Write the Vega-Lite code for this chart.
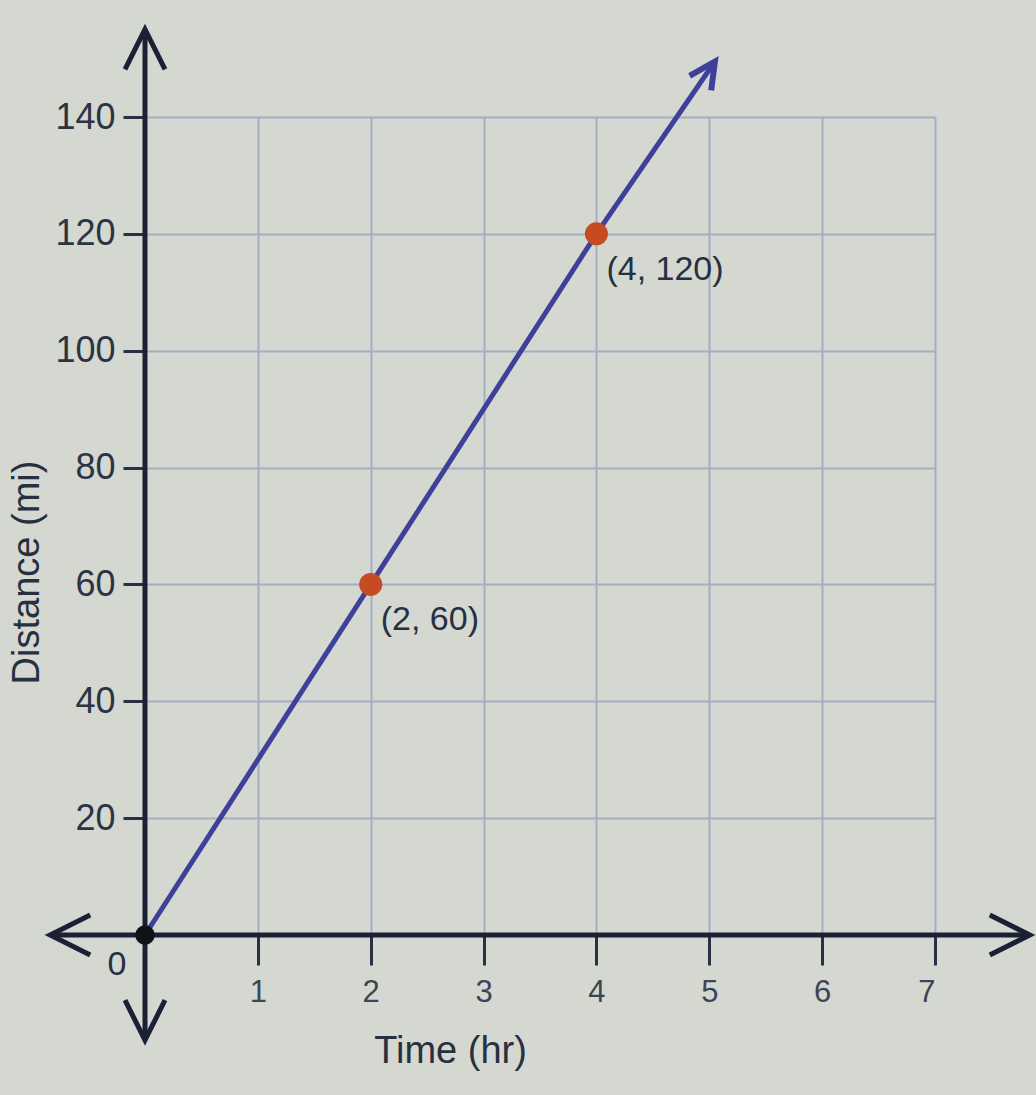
{
  "$schema": "https://vega.github.io/schema/vega-lite/v6.json",
  "width": 790,
  "height": 818,
  "autosize": {"type": "none"},
  "padding": {"left": 145, "top": 117, "right": 101, "bottom": 160},
  "background": "#d4d8d1",
  "config": {"view": {"stroke": null}, "font": "Liberation Sans"},
  "datasets": {
    "xaxisline": [{"x": -0.84, "x2": 7.84, "y": 0}],
    "yaxisline": [{"x": 0, "y": -18, "y2": 155}],
    "line": [{"x": 0, "y": 0}, {"x": 2, "y": 60}, {"x": 4, "y": 120}, {"x": 5.05, "y": 149.5}],
    "axisarrows": [
      {"x": 7.84, "y": 0, "angle": 0},
      {"x": -0.84, "y": 0, "angle": 180},
      {"x": 0, "y": 155, "angle": -90},
      {"x": 0, "y": -18, "angle": 90}
    ],
    "linearrow": [{"x": 5.05, "y": 149.5, "angle": -56}],
    "points": [{"x": 2, "y": 60, "label": "(2, 60)"}, {"x": 4, "y": 120, "label": "(4, 120)"}],
    "origin": [{"x": 0, "y": 0, "label": "0"}]
  },
  "encoding": {
    "x": {
      "field": "x",
      "type": "quantitative",
      "scale": {"domain": [0, 7], "nice": false, "zero": false},
      "axis": {
        "values": [1, 2, 3, 4, 5, 6, 7],
        "domain": false,
        "grid": true,
        "gridColor": "#a3aec3",
        "gridWidth": 2,
        "ticks": true,
        "tickSize": 30,
        "tickWidth": 3,
        "tickColor": "#2a3042",
        "labelFontSize": 31,
        "labelColor": "#3d4455",
        "labelPadding": 12,
        "title": "Time (hr)",
        "titleFontSize": 38,
        "titleFontWeight": "normal",
        "titleColor": "#263040",
        "titleX": 305,
        "titleY": 127,
        "titleBaseline": "alphabetic",
        "titleAlign": "center"
      }
    },
    "y": {
      "field": "y",
      "type": "quantitative",
      "scale": {"domain": [0, 140], "nice": false, "zero": false},
      "axis": {
        "values": [20, 40, 60, 80, 100, 120, 140],
        "domain": false,
        "grid": true,
        "gridColor": "#a3aec3",
        "gridWidth": 2,
        "ticks": true,
        "tickSize": 22,
        "tickWidth": 3,
        "tickColor": "#2a3042",
        "labelFontSize": 36,
        "labelColor": "#2c3444",
        "labelPadding": 8,
        "title": "Distance (mi)",
        "titleFontSize": 38,
        "titleFontWeight": "normal",
        "titleColor": "#263040",
        "titleAngle": -90,
        "titleX": -107,
        "titleY": 455,
        "titleBaseline": "alphabetic",
        "titleAlign": "center"
      }
    }
  },
  "layer": [
    {
      "data": {"name": "xaxisline"},
      "mark": {"type": "rule", "color": "#1b2034", "strokeWidth": 5},
      "encoding": {"x2": {"field": "x2"}}
    },
    {
      "data": {"name": "yaxisline"},
      "mark": {"type": "rule", "color": "#1b2034", "strokeWidth": 5},
      "encoding": {"y2": {"field": "y2"}}
    },
    {
      "data": {"name": "line"},
      "mark": {"type": "line", "color": "#3f4099", "strokeWidth": 5},
      "encoding": {}
    },
    {
      "data": {"name": "axisarrows"},
      "mark": {"type": "point", "shape": "M -2 -1 L 0 0 L -2 1", "filled": false, "size": 1600, "stroke": "#1b2034", "strokeWidth": 5, "opacity": 1, "strokeJoin": "miter"},
      "encoding": {"angle": {"field": "angle", "type": "quantitative", "scale": null}}
    },
    {
      "data": {"name": "linearrow"},
      "mark": {"type": "point", "shape": "M -2 -1 L 0 0 L -2 1", "filled": false, "size": 676, "stroke": "#3f4099", "strokeWidth": 6, "opacity": 1, "strokeJoin": "miter"},
      "encoding": {"angle": {"field": "angle", "type": "quantitative", "scale": null}}
    },
    {
      "data": {"name": "points"},
      "mark": {"type": "circle", "size": 530, "color": "#c64a22", "opacity": 1},
      "encoding": {}
    },
    {
      "data": {"name": "origin"},
      "mark": {"type": "circle", "size": 380, "color": "#111318", "opacity": 1},
      "encoding": {}
    },
    {
      "data": {"name": "points"},
      "mark": {"type": "text", "align": "left", "baseline": "middle", "dx": 10, "dy": 36, "fontSize": 34, "color": "#253042"},
      "encoding": {"text": {"field": "label"}}
    },
    {
      "data": {"name": "origin"},
      "mark": {"type": "text", "align": "center", "baseline": "middle", "dx": -28, "dy": 30, "fontSize": 34, "color": "#253042"},
      "encoding": {"text": {"field": "label"}}
    }
  ]
}
